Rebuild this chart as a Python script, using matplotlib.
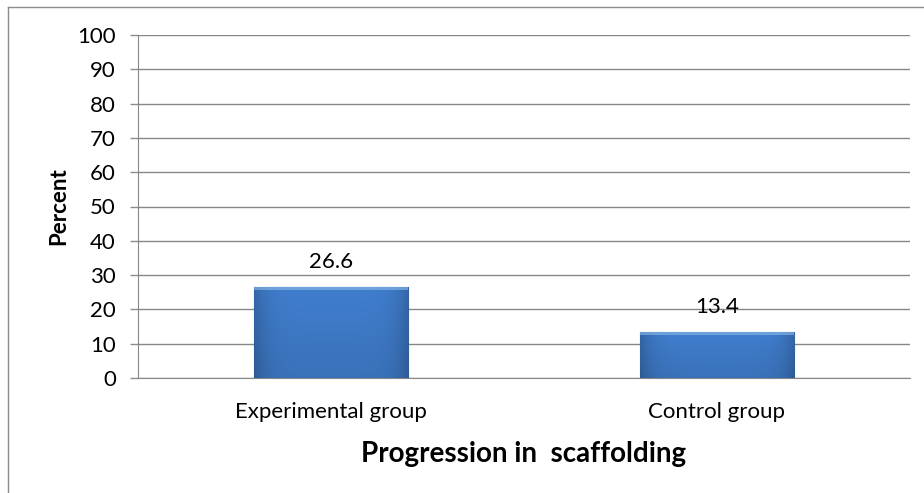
import matplotlib.pyplot as plt
from matplotlib.patches import Rectangle
import numpy as np

# Data
groups = ["Experimental group", "Control group"]
percent = [26.6, 13.4]
yticks = list(range(0, 101, 10))

plt.rcParams['font.family'] = ['Lato', 'DejaVu Sans']

fig = plt.figure(figsize=(9.24, 4.93), dpi=100)
ax = fig.add_axes([138 / 924, 1 - 378 / 493, (910 - 138) / 924, (378 - 35) / 493])

# outer frame of the chart area (only left and top visible)
fig.add_artist(plt.Line2D([8 / 924, 8 / 924], [0, 1 - 7 / 493], transform=fig.transFigure,
                          color='#8c8c8c', lw=1))
fig.add_artist(plt.Line2D([8 / 924, 1], [1 - 7 / 493, 1 - 7 / 493], transform=fig.transFigure,
                          color='#8c8c8c', lw=1))

x = np.arange(len(groups))
bars = ax.bar(x, percent, width=0.4, color='#3d78c4', edgecolor='#2c5a94', lw=0.8, zorder=3)

# shaded fill for each bar: darker at the sides and bottom
gx = np.linspace(-1, 1, 200)
gy = np.linspace(0, 1, 100)
GX, GY = np.meshgrid(gx, gy)
shade = 0.75 + 0.2 * (1 - np.abs(GX) ** 6) + 0.1 * GY
base = np.array([0x3d, 0x78, 0xc4]) / 255
img = np.clip(shade[..., None] * base, 0, 1)
for b in bars:
    x0, w, h = b.get_x(), b.get_width(), b.get_height()
    im = ax.imshow(img, extent=[x0, x0 + w, 0, h], origin='lower', aspect='auto', zorder=3.5)
    im.set_clip_path(b)
    ax.add_patch(Rectangle((x0, h - 0.8), w, 0.8, color='#8fbbe8', alpha=0.6, lw=0, zorder=4))

for xi, v in zip(x, percent):
    ax.text(xi, v + 7.3, f"{v}", ha='center', va='center', fontsize=16)

ax.set_xlim(-0.5, len(groups) - 0.5)
ax.set_ylim(0, 100)
ax.set_yticks(yticks)
ax.set_xticks(x)
ax.set_xticklabels(groups, fontsize=16)
ax.tick_params(axis='y', labelsize=16, length=6, color='#8c8c8c', width=1, pad=10)
ax.tick_params(axis='x', length=0, pad=17)
ax.grid(axis='y', color='#878787', lw=1, zorder=0)
ax.set_axisbelow(True)
for s in ['top', 'right']:
    ax.spines[s].set_visible(False)
for s in ['left', 'bottom']:
    ax.spines[s].set_color('#878787')

ax.set_ylabel("Percent", fontsize=16, fontweight='bold', labelpad=6)
ax.set_xlabel("Progression in  scaffolding", fontsize=20, fontweight='bold', labelpad=14)

fig.savefig("out.png", dpi=100)
